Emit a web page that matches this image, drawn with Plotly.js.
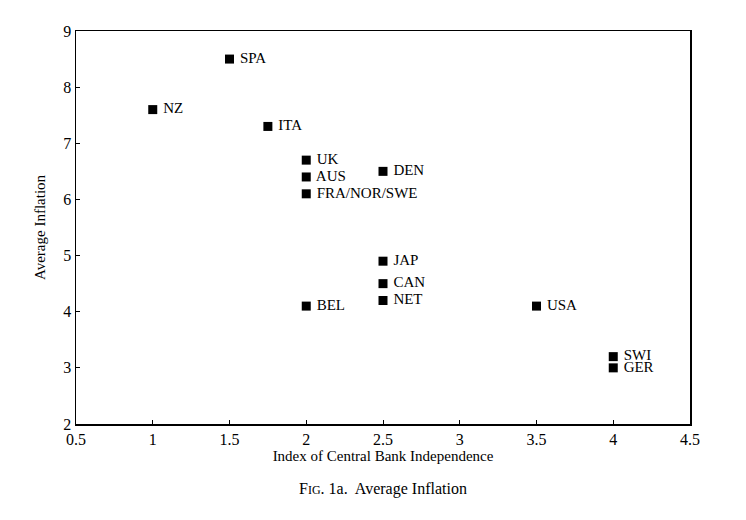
<!DOCTYPE html>
<html>
<head>
<meta charset="utf-8">
<script src="https://cdn.plot.ly/plotly-3.0.1.min.js"></script>
<style>
  html, body { margin: 0; padding: 0; background: #fff; }
  #chart { width: 746px; height: 520px; }
</style>
</head>
<body>
<div id="chart"></div>
<script>
// Data
const countries = ['SPA', 'NZ', 'ITA', 'UK', 'AUS', 'FRA/NOR/SWE', 'DEN',
                   'JAP', 'CAN', 'NET', 'BEL', 'USA', 'SWI', 'GER'];
const independence = [1.5, 1.0, 1.75, 2.0, 2.0, 2.0, 2.5,
                      2.5, 2.5, 2.5, 2.0, 3.5, 4.0, 4.0];
const inflation = [8.5, 7.6, 7.3, 6.7, 6.4, 6.1, 6.5,
                   4.9, 4.5, 4.2, 4.1, 4.1, 3.2, 3.0];

const serif = 'Liberation Serif, Times New Roman, serif';

const trace = {
    x: independence,
    y: inflation,
    text: countries.map(c => ' ' + c),
    type: 'scatter',
    mode: 'markers+text',
    textposition: 'middle right',
    textfont: { family: serif, size: 15, color: '#000' },
    marker: { symbol: 'square', size: 9, color: '#000' },
    cliponaxis: false,
    hoverinfo: 'none'
};

const axisStyle = {
    showline: true,
    mirror: true,
    linecolor: '#000',
    linewidth: 1.5,
    showgrid: false,
    zeroline: false,
    ticks: 'inside',
    ticklen: 4,
    tickcolor: '#000',
    tickfont: { family: serif, size: 16, color: '#000' }
};

const layout = {
    width: 746,
    height: 520,
    margin: { l: 76, r: 56, t: 31, b: 96 },
    paper_bgcolor: '#fff',
    plot_bgcolor: '#fff',
    showlegend: false,
    xaxis: Object.assign({}, axisStyle, {
        range: [0.5, 4.5],
        tickmode: 'linear',
        tick0: 0.5,
        dtick: 0.5,
        title: { text: 'Index of Central Bank Independence', font: { family: serif, size: 15, color: '#000' }, standoff: 4 }
    }),
    yaxis: Object.assign({}, axisStyle, {
        range: [2, 9],
        tickmode: 'linear',
        tick0: 2,
        dtick: 1,
        title: { text: 'Average Inflation', font: { family: serif, size: 15, color: '#000' }, standoff: 14 }
    }),
    annotations: [{
        text: 'F<span style="font-size:12px">IG</span>. 1a.  Average Inflation',
        xref: 'paper', yref: 'paper',
        x: 0.5, y: -0.165,
        xanchor: 'center', yanchor: 'middle',
        showarrow: false,
        font: { family: serif, size: 16, color: '#000' }
    }]
};

Plotly.newPlot('chart', [trace], layout, { staticPlot: true });
</script>
</body>
</html>
